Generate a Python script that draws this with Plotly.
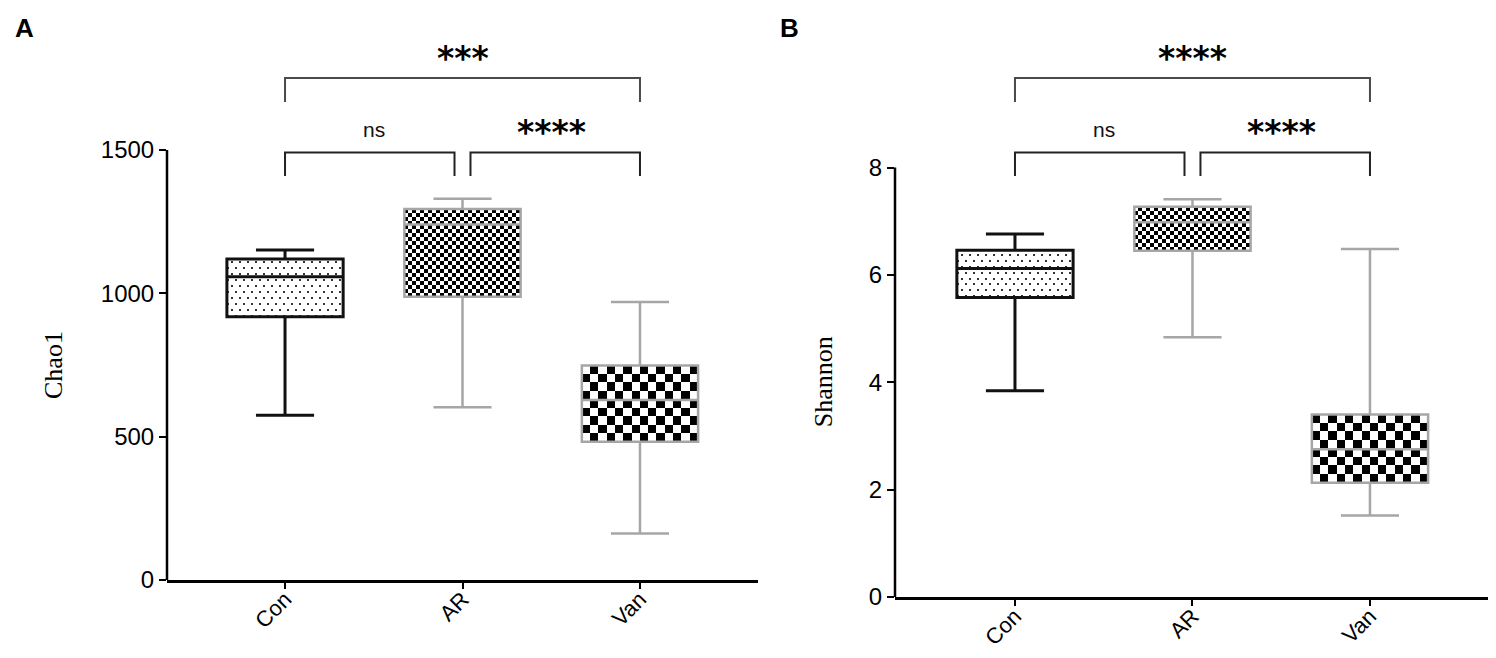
import numpy as np
import plotly.graph_objects as go

# the page adds an 8px body margin, so the figure is drawn 16px smaller
PAD = 8
W, H = 1496 - 2 * PAD, 658 - 2 * PAD

groups = ["Con", "AR", "Van"]

# Chao1 (panel A) box stats: q1, median, q3, lower whisker, upper whisker
chao1_q1 = [918, 988, 482]
chao1_median = [1058, 1240, 628]
chao1_q3 = [1120, 1294, 748]
chao1_low = [575, 603, 162]
chao1_high = [1151, 1330, 970]
chao1_ticks = [0, 500, 1000, 1500]

# Shannon (panel B)
shannon_q1 = [5.58, 6.45, 2.13]
shannon_median = [6.12, 6.98, 2.75]
shannon_q3 = [6.46, 7.27, 3.40]
shannon_low = [3.84, 4.84, 1.52]
shannon_high = [6.76, 7.41, 6.48]
shannon_ticks = [0, 2, 4, 6, 8]

# significance: (left group, right group, label, level) level 0 = inner, 1 = outer
chao1_sig = [(0, 1, "ns", 0), (1, 2, "****", 0), (0, 2, "***", 1)]
shannon_sig = [(0, 1, "ns", 0), (1, 2, "****", 0), (0, 2, "****", 1)]

BOX_W = 0.655
GAP = 0.045
line_cols = ["#111111", "#a6a6a6", "#a6a6a6"]
line_w = [3, 2.5, 2.5]
textures = ["dots", "checker", "checker"]
cell_px = [2.0, 4.0, 8.3]


def px_x(x):
    return (x - PAD) / W


def px_y(y):
    return 1 - (y - PAD) / H


# pixel geometry (in the reference picture) of each panel
panels = [
    dict(left=167, right=758, top=40, bottom=580, tick_top_px=150, ytop=1500,
         xr=[-0.665, 2.665], xa="x", ya="y",
         stats=(chao1_q1, chao1_median, chao1_q3, chao1_low, chao1_high),
         ticks=chao1_ticks, sig=chao1_sig, title="Chao1", title_x=53),
    dict(left=895, right=1488, top=40, bottom=597, tick_top_px=167.5, ytop=8,
         xr=[-0.676, 2.665], xa="x2", ya="y2",
         stats=(shannon_q1, shannon_median, shannon_q3, shannon_low, shannon_high),
         ticks=shannon_ticks, sig=shannon_sig, title="Shannon", title_x=823),
]


def texture(kind, nrows, ncols):
    z = np.zeros((nrows, ncols))
    for r in range(nrows):
        for c in range(ncols):
            if kind == "checker":
                z[r, c] = (r + c) % 2
            elif r % 3 == 0 and c % 4 == 2 * ((r // 3) % 2):
                z[r, c] = 1
    return z


fig = go.Figure()
layout_axes = {}
shapes = []
annotations = []
tick_font = dict(family="Liberation Sans, Arial", size=24, color="black")
xtick_font = dict(family="Liberation Sans, Arial", size=22, color="black")

for p in panels:
    ppu = (p["bottom"] - p["tick_top_px"]) / p["ytop"]  # px per y unit
    yr_top = p["ytop"] + (p["tick_top_px"] - p["top"]) / ppu
    ppx = (p["right"] - p["left"]) / (p["xr"][1] - p["xr"][0])

    def y_at(px, ppu=ppu, p=p):
        return (p["bottom"] - px) / ppu

    q1, med, q3, lo, hi = p["stats"]
    for i in range(3):
        ncols = max(1, round(BOX_W * ppx / cell_px[i]))
        nrows = max(1, round((q3[i] - q1[i]) * ppu / cell_px[i]))
        scale = [[0, "white"], [1, "#333333" if textures[i] == "dots" else "black"]]
        fig.add_trace(go.Heatmap(
            x=np.linspace(i - BOX_W / 2, i + BOX_W / 2, ncols + 1),
            y=np.linspace(q1[i], q3[i], nrows + 1),
            z=texture(textures[i], nrows, ncols),
            colorscale=scale, zmin=0, zmax=1, showscale=False,
            hoverinfo="skip", xaxis=p["xa"], yaxis=p["ya"],
        ))
    for i in range(3):
        fig.add_trace(go.Box(
            x=[i], q1=[q1[i]], median=[med[i]], q3=[q3[i]],
            lowerfence=[lo[i]], upperfence=[hi[i]],
            width=BOX_W, whiskerwidth=0.5, boxpoints=False,
            fillcolor="rgba(0,0,0,0)",
            line=dict(color=line_cols[i], width=line_w[i]),
            showlegend=False, xaxis=p["xa"], yaxis=p["ya"],
        ))

    suffix = p["xa"][1:]
    layout_axes["xaxis" + suffix] = dict(
        domain=[px_x(p["left"]), px_x(p["right"])], range=p["xr"], anchor=p["ya"],
        tickvals=[0, 1, 2], ticktext=groups, tickangle=-45, automargin=False,
        ticklabelstandoff=-11,
        showline=True, linecolor="black", linewidth=2.5,
        ticks="outside", ticklen=6, tickwidth=2, tickcolor="black",
        showgrid=False, zeroline=False, tickfont=xtick_font,
    )
    layout_axes["yaxis" + suffix] = dict(
        domain=[px_y(p["bottom"]), px_y(p["top"])], range=[0, yr_top],
        anchor=p["xa"], tickvals=p["ticks"], showline=False, automargin=False,
        ticks="outside", ticklen=7, tickwidth=2, tickcolor="black",
        showgrid=False, zeroline=False, tickfont=tick_font,
    )
    # y axis line only up to the top tick
    shapes.append(dict(type="line", xref=p["xa"] + " domain", yref=p["ya"],
                       x0=0, x1=0, y0=0, y1=p["ytop"],
                       line=dict(color="black", width=2.5)))

    for a, b, label, level in p["sig"]:
        x0 = a + (GAP if level == 0 and a == 1 else 0)
        x1 = b - (GAP if level == 0 and b == 1 else 0)
        top_px, leg_px = (152.5, 176) if level == 0 else (78, 102)
        ytop, yleg = y_at(top_px), y_at(leg_px)
        shapes.append(dict(
            type="path", xref=p["xa"], yref=p["ya"],
            path=f"M {x0},{yleg} L {x0},{ytop} L {x1},{ytop} L {x1},{yleg}",
            line=dict(color="#222222" if level == 0 else "#4a4a4a", width=2),
        ))
        if label == "ns":
            font = dict(family="Liberation Sans, Arial", size=21, color="#111111")
            text = label
            ty = y_at(129)
        else:
            font = dict(family="DejaVu Sans", size=33, color="black")
            text = f"<b>{label}</b>"
            ty = y_at(132 if level == 0 else 58)
        annotations.append(dict(
            x=(a + b) / 2, y=ty, xref=p["xa"], yref=p["ya"], text=text,
            showarrow=False, font=font, yanchor="middle",
        ))

    mid_px = (p["bottom"] + p["tick_top_px"]) / 2
    annotations.append(dict(
        x=px_x(p["title_x"]), y=px_y(mid_px), xref="paper", yref="paper",
        text=p["title"], textangle=-90, showarrow=False,
        xanchor="center", yanchor="middle",
        font=dict(family="Liberation Serif, Times New Roman", size=26, color="black"),
    ))

for letter, lx in [("A", 13), ("B", 778)]:
    annotations.append(dict(
        x=px_x(lx), y=px_y(28), xref="paper", yref="paper", text=f"<b>{letter}</b>",
        showarrow=False, xanchor="left", yanchor="middle",
        font=dict(family="Liberation Sans, Arial", size=26, color="black"),
    ))

fig.update_layout(
    width=W, height=H, margin=dict(l=0, r=0, t=0, b=0, autoexpand=False),
    paper_bgcolor="white", plot_bgcolor="white", showlegend=False,
    boxmode="overlay", shapes=shapes, annotations=annotations,
    **layout_axes,
)

fig.write_html("out.html")
